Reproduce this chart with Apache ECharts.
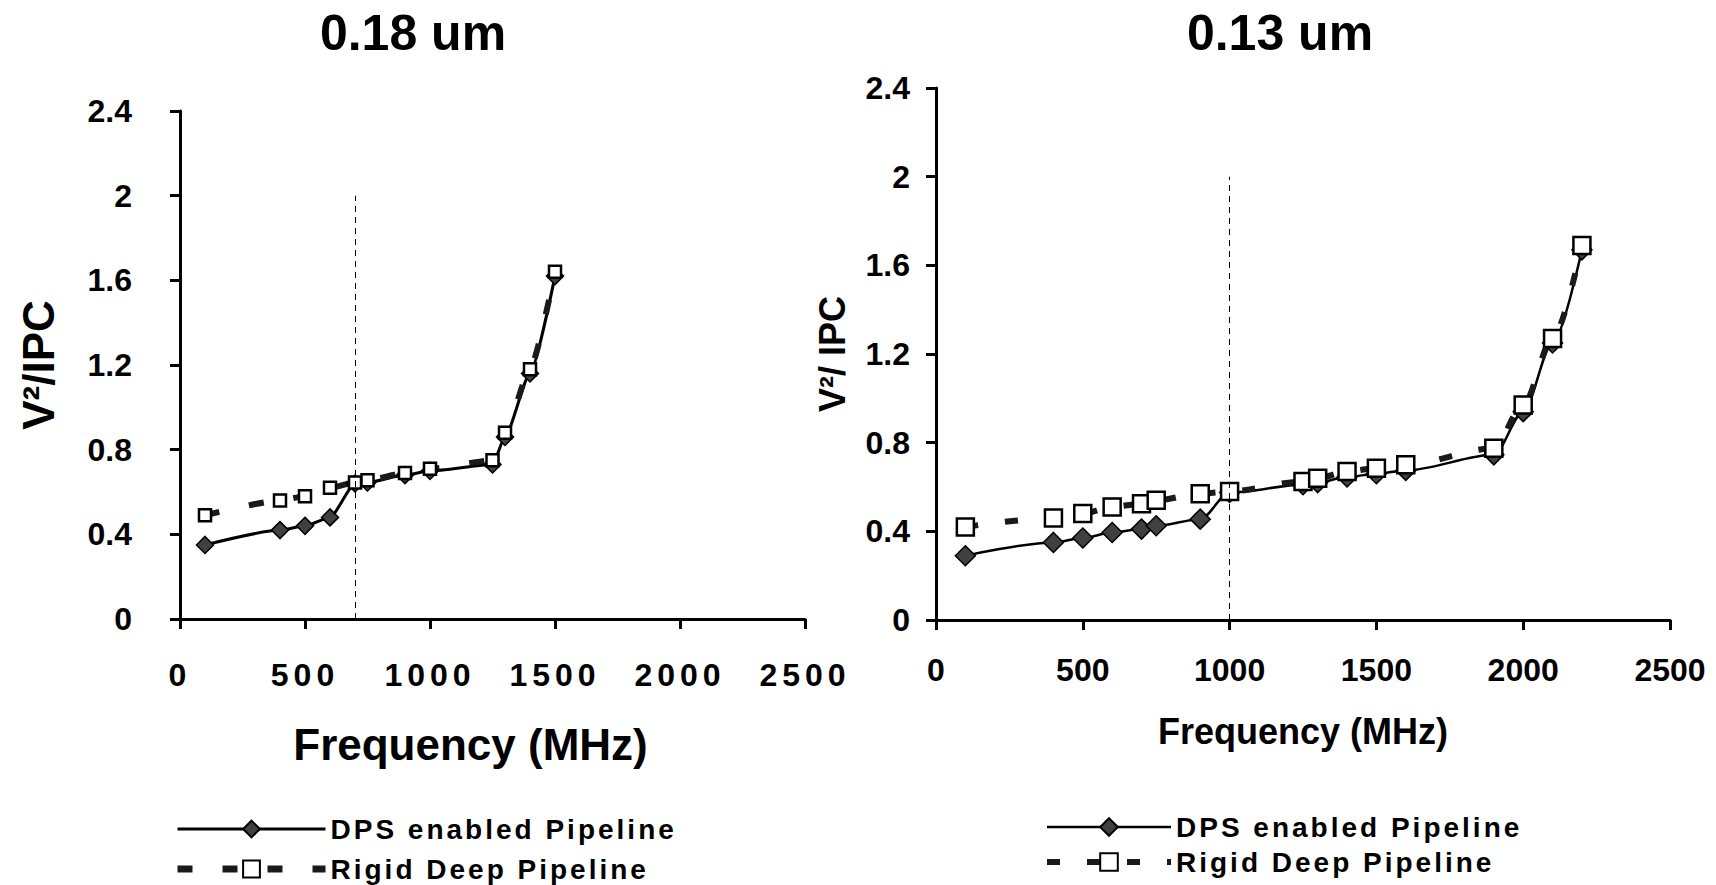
<!DOCTYPE html>
<html>
<head>
<meta charset="utf-8">
<title>V2/IPC vs Frequency</title>
<script src="https://cdn.jsdelivr.net/npm/echarts@6/dist/echarts.min.js"></script>
<style>
  html, body { margin: 0; padding: 0; background: #fff; }
  #main { width: 1716px; height: 885px; }
  /* the exported Excel chart spaces out some bold labels */
  #main text[style*="SpacedA"] { letter-spacing: 3px; }
  #main text[style*="SpacedB"] { letter-spacing: 5px; }
</style>
</head>
<body>
<div id="main"></div>
<script>
// 0.18 um
var freq18 = [100, 400, 500, 600, 700, 750, 900, 1000, 1250, 1300, 1400, 1500];
var dps18 = [0.35, 0.42, 0.44, 0.48, 0.64, 0.645, 0.68, 0.70, 0.73, 0.86, 1.16, 1.62];
var rigid18 = [0.49, 0.56, 0.58, 0.62, 0.645, 0.655, 0.69, 0.71, 0.75, 0.88, 1.18, 1.64];
var split18 = 700;

// 0.13 um
var freq13 = [100, 400, 500, 600, 700, 750, 900, 1000, 1250, 1300, 1400, 1500, 1600, 1900, 2000, 2100, 2200];
var dps13 = [0.29, 0.35, 0.37, 0.395, 0.41, 0.425, 0.455, 0.575, 0.61, 0.62, 0.645, 0.66, 0.675, 0.745, 0.94, 1.25, 1.67];
var rigid13 = [0.42, 0.46, 0.48, 0.51, 0.525, 0.54, 0.57, 0.58, 0.625, 0.64, 0.67, 0.685, 0.70, 0.775, 0.97, 1.27, 1.69];
var split13 = 1000;

var legendNames = ['DPS enabled Pipeline', 'Rigid Deep Pipeline'];

var BASE = "'Liberation Sans', Arial, sans-serif";
var LEG = "SpacedA, 'Liberation Sans', Arial, sans-serif";
var TICK = "SpacedB, 'Liberation Sans', Arial, sans-serif";

function pairs(xs, ys) {
    return xs.map(function (x, i) { return [x, ys[i]]; });
}

function xAxis(idx, o) {
    return {
        gridIndex: idx, type: 'value', min: 0, max: 2500, interval: 500,
        name: 'Frequency (MHz)', nameLocation: 'middle', nameGap: o.nameGap,
        nameTextStyle: {fontSize: o.nameSize, fontWeight: 'bold', color: '#000', fontFamily: BASE, padding: o.namePad},
        axisLine: {lineStyle: {color: '#000', width: 3}},
        axisTick: {length: 10, lineStyle: {color: '#000', width: 3}},
        axisLabel: {margin: o.margin, fontSize: 32, fontWeight: 'bold', color: '#000', fontFamily: o.font,
                    formatter: function (v) { return String(v); }},
        splitLine: {show: false}
    };
}

function yAxis(idx, o) {
    return {
        gridIndex: idx, type: 'value', min: 0, max: 2.4, interval: 0.4,
        name: o.name, nameLocation: 'middle', nameGap: o.nameGap, nameRotate: 90,
        nameTextStyle: {fontSize: o.nameSize, fontWeight: 'bold', color: '#000', fontFamily: BASE},
        axisLine: {show: true, lineStyle: {color: '#000', width: 3}},
        axisTick: {show: true, length: 10, lineStyle: {color: '#000', width: 3}},
        axisLabel: {margin: o.margin, fontSize: 32, fontWeight: 'bold', color: '#000', fontFamily: BASE},
        splitLine: {show: false}
    };
}

function splitLine(x) {
    return {
        silent: true, symbol: ['none', 'none'], label: {show: false},
        lineStyle: {color: '#000', width: 1, type: [6, 5]},
        data: [[{coord: [x, 0]}, {coord: [x, 2]}]]
    };
}

var chart = echarts.init(document.getElementById('main'), null, {renderer: 'svg'});
chart.setOption({
    animation: false,
    backgroundColor: '#fff',
    textStyle: {fontFamily: BASE, color: '#000'},
    title: [
        {text: '0.18 um', left: 408, top: 3, textAlign: 'center',
         textStyle: {fontSize: 50, fontWeight: 'bold', color: '#000', fontFamily: BASE}},
        {text: '0.13 um', left: 1275, top: 3, textAlign: 'center',
         textStyle: {fontSize: 50, fontWeight: 'bold', color: '#000', fontFamily: BASE}}
    ],
    grid: [
        {left: 180, right: 911, top: 111, bottom: 266},
        {left: 936, right: 46, top: 88, bottom: 265}
    ],
    xAxis: [
        xAxis(0, {nameGap: 103, nameSize: 44, namePad: [0, 44, 0, 0], margin: 40, font: TICK}),
        xAxis(1, {nameGap: 93, nameSize: 36, namePad: [0, 0, 0, 0], margin: 34, font: BASE})
    ],
    yAxis: [
        yAxis(0, {name: 'V²/IPC', nameGap: 120, nameSize: 44, margin: 48}),
        yAxis(1, {name: 'V²/ IPC', nameGap: 86, nameSize: 36, margin: 26})
    ],
    legend: [
        {orient: 'vertical', left: 174, top: 815, height: 70, padding: 0,
         itemWidth: 148, itemHeight: 21, itemGap: 12, selectedMode: false,
         textStyle: {fontSize: 28, fontWeight: 'bold', color: '#000', fontFamily: LEG},
         data: [
             {name: legendNames[0], lineStyle: {width: 3}},
             {name: legendNames[1], lineStyle: {width: 7, type: [15, 30]}}
         ]},
        {orient: 'vertical', left: 1044, top: 813, height: 70, padding: 0,
         itemWidth: 124, itemHeight: 22, itemGap: 7, selectedMode: false,
         textStyle: {fontSize: 28, fontWeight: 'bold', color: '#000', fontFamily: LEG},
         data: [
             {name: legendNames[0], lineStyle: {width: 2.5}},
             {name: legendNames[1], lineStyle: {width: 6, type: [13, 27]}}
         ]}
    ],
    series: [
        {name: legendNames[0], type: 'line', xAxisIndex: 0, yAxisIndex: 0,
         data: pairs(freq18, dps18), smooth: 0.2, smoothMonotone: 'x',
         symbol: 'diamond', symbolSize: 17,
         lineStyle: {color: '#000', width: 3},
         itemStyle: {color: '#404040', borderColor: '#000', borderWidth: 1.5},
         markLine: splitLine(split18)},
        {name: legendNames[1], type: 'line', xAxisIndex: 0, yAxisIndex: 0,
         data: pairs(freq18, rigid18), smooth: 0.2, smoothMonotone: 'x',
         symbol: 'rect', symbolSize: 12,
         lineStyle: {color: '#1a1a1a', width: 6, type: [15, 30]},
         itemStyle: {color: '#fff', borderColor: '#000', borderWidth: 2.5}},
        {name: legendNames[0], type: 'line', xAxisIndex: 1, yAxisIndex: 1,
         data: pairs(freq13, dps13), smooth: 0.3, smoothMonotone: 'x',
         symbol: 'diamond', symbolSize: 20,
         lineStyle: {color: '#000', width: 2.5},
         itemStyle: {color: '#404040', borderColor: '#000', borderWidth: 1.5},
         markLine: splitLine(split13)},
        {name: legendNames[1], type: 'line', xAxisIndex: 1, yAxisIndex: 1,
         data: pairs(freq13, rigid13), smooth: 0.3, smoothMonotone: 'x',
         symbol: 'rect', symbolSize: 17,
         lineStyle: {color: '#1a1a1a', width: 6, type: [13, 27]},
         itemStyle: {color: '#fff', borderColor: '#000', borderWidth: 2.5}}
    ]
});
</script>
</body>
</html>
